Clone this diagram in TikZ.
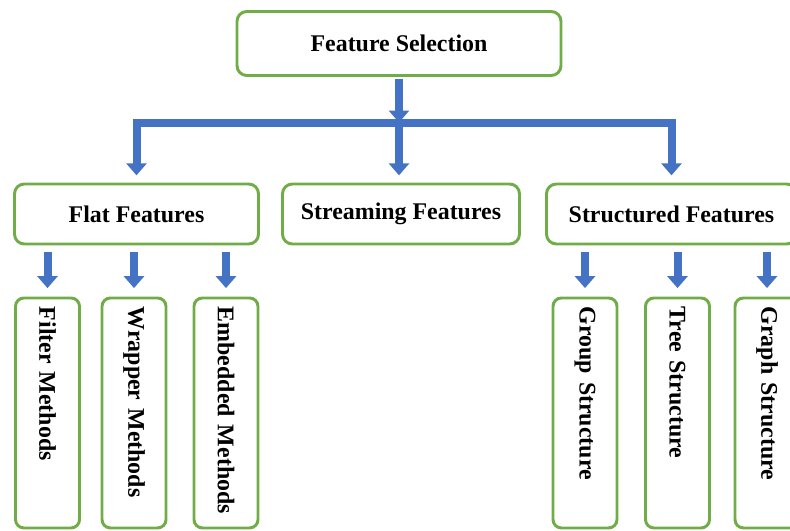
\documentclass[tikz,border=0pt]{standalone}
\usepackage{fontspec}
\setmainfont{Liberation Serif}
\usetikzlibrary{positioning, arrows.meta}
\definecolor{cGreen}{HTML}{70AD47}
\definecolor{cBlue}{HTML}{4472C4}

\begin{document}
\begin{tikzpicture}[
    block/.style={
        draw=cGreen, line width=2.1pt, rounded corners=7pt, fill=white,
        minimum height=1.5cm, align=center,
        font=\fontsize{17}{20}\selectfont\bfseries
    },
    vblock/.style={
        block, rounded corners=6pt, rotate=-90, anchor=west,
        minimum height=1.6cm, text width=5.31cm, inner xsep=0.22cm, align=left
    },
    arr/.style={
        -{Triangle[width=0.5cm, length=0.3cm]}, line width=0.2cm, draw=cBlue
    },
]

\useasboundingbox (0,0) rectangle (19.75,-13.25);

% =============================================
% ROOT
% =============================================

\node[block, minimum width=8.1cm, minimum height=1.6cm] (fsel) at (9.975, -1.0875) {Feature Selection};

% =============================================
% SECOND LEVEL
% =============================================

\node[block, minimum width=6.1cm] (flat) at (3.4125, -5.35) {Flat Features};
\node[block, minimum width=5.925cm] (stream) at (10.025, -5.35) {Streaming Features};
\node[block, minimum width=6.25cm] (struct) at (16.7875, -5.35) {Structured Features};

% branching bar under the root
\coordinate (barM) at (9.975, -3.0625);
\draw[arr, shorten <=0.06cm] (fsel.south) -- (barM);
\draw[arr, shorten >=0.18cm] (barM) -| (flat.north);
\draw[arr, shorten >=0.18cm] (barM) -| (struct.north);
\draw[arr, shorten >=0.18cm] (barM) -- (barM |- stream.north);

% =============================================
% THIRD LEVEL (rotated boxes: west anchor is the top)
% =============================================

\def\lowY{-7.4125}

\node[vblock] (filter) at (1.1875, \lowY) {Filter Methods};
\node[vblock] (wrapper) at (3.35, \lowY) {Wrapper Methods};
\node[vblock] (embed) at (5.65, \lowY) {Embedded Methods};

\node[vblock] (group) at (14.625, \lowY) {Group Structure};
\node[vblock] (tree) at (16.9375, \lowY) {Tree Structure};
\node[vblock] (graph) at (19.175, \lowY) {Graph Structure};

\foreach \child in {filter, wrapper, embed}
    \draw[arr, shorten <=0.16cm, shorten >=0.21cm] (\child.west |- flat.south) -- (\child.west);
\foreach \child in {group, tree, graph}
    \draw[arr, shorten <=0.16cm, shorten >=0.21cm] (\child.west |- struct.south) -- (\child.west);

\end{tikzpicture}
\end{document}
